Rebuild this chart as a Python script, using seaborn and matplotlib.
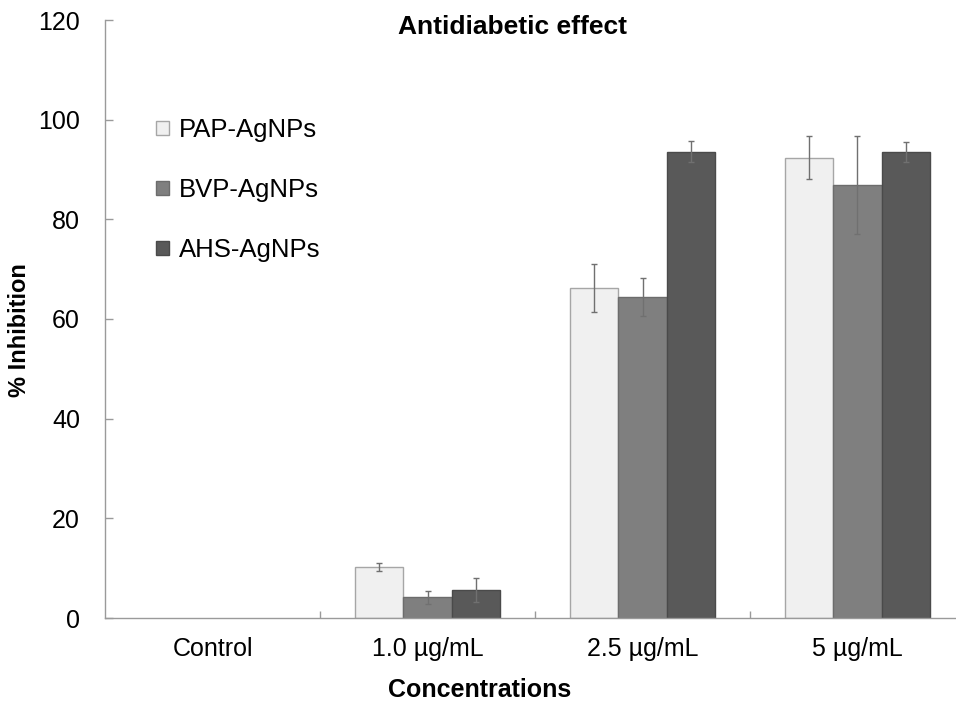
import numpy as np
import pandas as pd
import matplotlib
matplotlib.use("Agg")
import matplotlib.pyplot as plt
import seaborn as sns

# ---- data ----
concentrations = ["Control", "1.0 µg/mL", "2.5 µg/mL", "5 µg/mL"]
samples = ["PAP-AgNPs", "BVP-AgNPs", "AHS-AgNPs"]
pap_values = [0.0, 10.2, 66.3, 92.4]
bvp_values = [0.0, 4.2, 64.5, 86.9]
ahs_values = [0.0, 5.6, 93.6, 93.6]
pap_err = [0.0, 0.8, 4.8, 4.4]
bvp_err = [0.0, 1.3, 3.8, 9.8]
ahs_err = [0.0, 2.4, 2.1, 2.0]
y_ticks = [0, 20, 40, 60, 80, 100, 120]

values = [pap_values, bvp_values, ahs_values]
errors = [pap_err, bvp_err, ahs_err]
rows = []
for s, vals in zip(samples, values):
    for c, v in zip(concentrations, vals):
        rows.append({"Concentration": c, "Sample": s, "Inhibition": v})
df = pd.DataFrame(rows)

sns.set_theme(style="white")
plt.rcParams["font.family"] = ["Liberation Sans", "DejaVu Sans"]
plt.rcParams["text.color"] = "black"
plt.rcParams["axes.labelcolor"] = "black"
plt.rcParams["xtick.labelcolor"] = "black"
plt.rcParams["ytick.labelcolor"] = "black"

W, H = 956, 702
fig = plt.figure(figsize=(W / 100, H / 100), dpi=100)
ax_l, ax_r, ax_t, ax_b = 105, 965, 20, 618
ax = fig.add_axes([ax_l / W, 1 - ax_b / H, (ax_r - ax_l) / W, (ax_b - ax_t) / H])

fills = ["#f0f0f0", "#7f7f7f", "#595959"]
edges = ["#a6a6a6", "#6c6c6c", "#4a4a4a"]

sns.barplot(data=df, x="Concentration", y="Inhibition", hue="Sample",
            order=concentrations, hue_order=samples, palette=fills,
            saturation=1, width=0.67, errorbar=None, ax=ax, legend=True)

for cont, ec, errs in zip(ax.containers, edges, errors):
    for bar, e in zip(cont, errs):
        bar.set_edgecolor(ec)
        bar.set_linewidth(1.0 if bar.get_height() > 0 else 0)
        if e > 0:
            xc = bar.get_x() + bar.get_width() / 2
            ax.errorbar(xc, bar.get_height(), yerr=e, fmt="none",
                        ecolor="#707070", elinewidth=1.0, capsize=2.2,
                        capthick=1.0, zorder=5)

ax.set_ylim(0, 120)
ax.set_yticks(y_ticks)
ax.set_xlim(-0.5, 3.5)
sns.despine(ax=ax, top=True, right=True)
for sp in ["left", "bottom"]:
    ax.spines[sp].set_color("#9a9a9a")
    ax.spines[sp].set_linewidth(1.0)

ax.tick_params(axis="y", direction="in", length=6, width=1, color="#9a9a9a",
               pad=18, labelsize=18, left=True, labelcolor="black")
ax.tick_params(axis="x", which="major", length=0, pad=14, labelsize=18,
               labelcolor="black")
ax.set_xticks([0.5, 1.5, 2.5], minor=True)
ax.tick_params(axis="x", which="minor", direction="in", length=5, width=1,
               color="#9a9a9a", bottom=True)

ax.set_xlabel("Concentrations", fontsize=18, fontweight="bold", color="black")
ax.xaxis.set_label_coords((480 - ax_l) / (ax_r - ax_l), -0.100)
ax.set_ylabel("% Inhibition", fontsize=17, fontweight="bold", color="black")
ax.yaxis.set_label_coords((31 - ax_l) / (ax_r - ax_l), (ax_b - 330) / (ax_b - ax_t))

fig.text(513 / W, 1 - 27 / H, "Antidiabetic effect", ha="center", va="center",
         fontsize=19, fontweight="bold", color="black")

handles, labels = ax.get_legend_handles_labels()
for h, ec in zip(handles, edges):
    h.set_edgecolor(ec)
    h.set_linewidth(1.0)
leg = ax.legend(handles, labels, loc="upper left",
                bbox_to_anchor=(156 / W, 1 - 118 / H), bbox_transform=fig.transFigure,
                frameon=False, fontsize=18.5, handlelength=0.5, handleheight=0.5,
                handletextpad=0.4, labelspacing=1.4, borderpad=0, borderaxespad=0)
for t in leg.get_texts():
    t.set_color("black")

fig.savefig("out.png", dpi=100)
